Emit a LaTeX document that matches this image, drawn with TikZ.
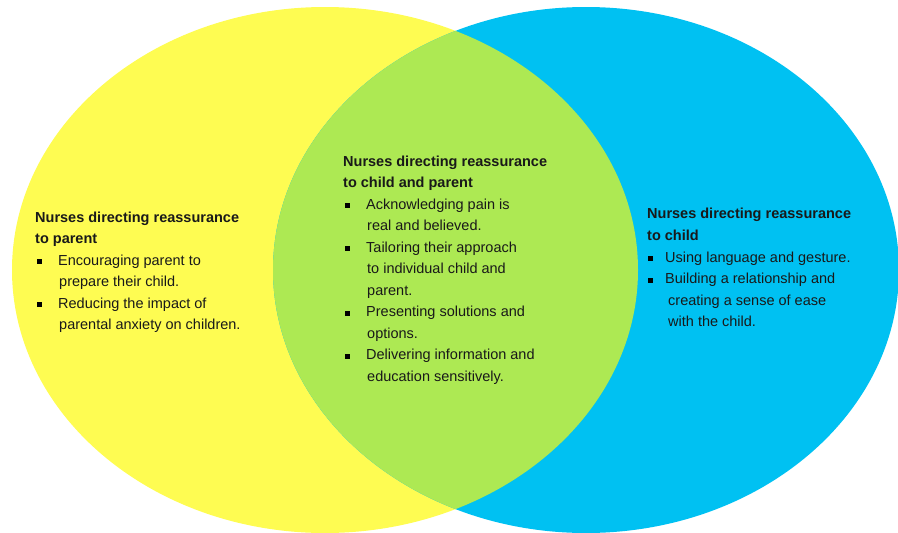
\documentclass[tikz,border=0pt]{standalone}
\usepackage{fontspec}
\setmainfont{Liberation Sans}
\definecolor{vyellow}{HTML}{FEFC52}
\definecolor{vblue}{HTML}{00C1F2}
\definecolor{vgreen}{HTML}{ADE953}
\begin{document}
\begin{tikzpicture}[x=1pt,y=-1pt,
  txt/.style={anchor=base west, inner sep=0pt, font=\fontsize{14.5}{17}\selectfont, text=black!90},
  hd/.style={txt, font=\fontsize{14.5}{17}\selectfont\bfseries},
  bul/.style={fill=black, minimum size=5pt, inner sep=0pt, draw=none}]
\useasboundingbox (0,0) rectangle (898,533);
% circles
\fill[vyellow] (325,270) ellipse [x radius=313, y radius=263];
\fill[vblue] (586,270) ellipse [x radius=313, y radius=263];
\begin{scope}
  \clip (325,270) ellipse [x radius=313, y radius=263];
  \fill[vgreen] (586,270) ellipse [x radius=313, y radius=263];
\end{scope}
% left block
\node[hd] (l1) at (35,222) {Nurses directing reassurance};
\node[hd] (l2) at (35,243.5) {to parent};
\node[bul] (lb1) at (39,261.5) {};
\node[txt] (l3) at (58,265) {Encouraging parent to};
\node[txt] (l4) at (59,286.5) {prepare their child.};
\node[bul] (lb2) at (39,304.5) {};
\node[txt] (l5) at (58,308) {Reducing the impact of};
\node[txt] (l6) at (59,329.5) {parental anxiety on children.};
% centre block
\node[hd] (c1) at (343,166) {Nurses directing reassurance};
\node[hd] (c2) at (343,187.5) {to child and parent};
\node[bul] (cb1) at (347,205.5) {};
\node[txt] (c3) at (366,209) {Acknowledging pain is};
\node[txt] (c4) at (367,230.5) {real and believed.};
\node[bul] (cb2) at (347,248.5) {};
\node[txt] (c5) at (366,252) {Tailoring their approach};
\node[txt] (c6) at (367,273.5) {to individual child and};
\node[txt] (c7) at (367,295) {parent.};
\node[bul] (cb3) at (347,313) {};
\node[txt] (c8) at (366,316.5) {Presenting solutions and};
\node[txt] (c9) at (367,338) {options.};
\node[bul] (cb4) at (347,356) {};
\node[txt] (c10) at (366,359.5) {Delivering information and};
\node[txt] (c11) at (367,381) {education sensitively.};
% right block
\node[hd] (r1) at (647,218.5) {Nurses directing reassurance};
\node[hd] (r2) at (647,240) {to child};
\node[bul] (rb1) at (650,258.5) {};
\node[txt] (r3) at (665,262) {Using language and gesture.};
\node[bul] (rb2) at (650,280) {};
\node[txt] (r4) at (665,283.5) {Building a relationship and};
\node[txt] (r5) at (668,305) {creating a sense of ease};
\node[txt] (r6) at (668,326.5) {with the child.};
\end{tikzpicture}
\end{document}
